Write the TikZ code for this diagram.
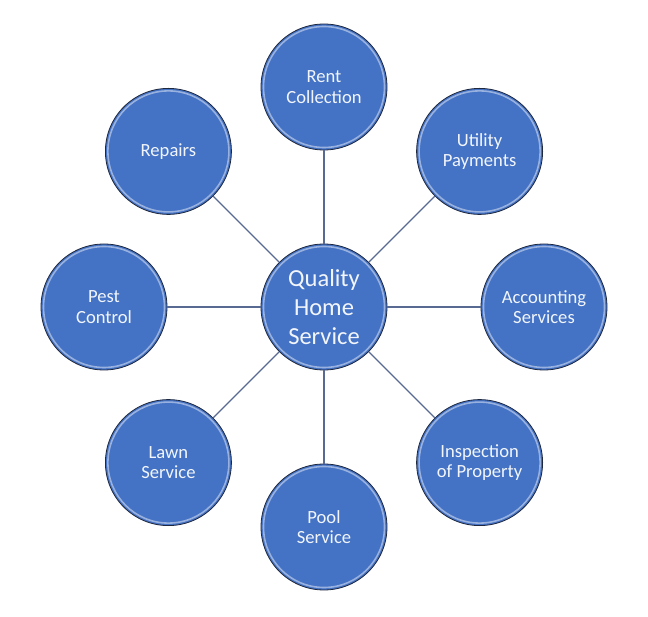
\documentclass[tikz,border=0pt]{standalone}
\usepackage{fontspec}
\setmainfont{Carlito}
\definecolor{bubble}{RGB}{68,114,196}
\definecolor{rim}{RGB}{30,40,62}
\definecolor{spoke}{RGB}{88,106,146}
\definecolor{label}{RGB}{242,246,252}
\tikzset{
  bubble/.style={circle,minimum size=126pt,inner sep=0pt,fill=bubble,draw=rim,line width=0.8pt,
    text=label,align=center,font=\fontsize{18.6}{20.5}\selectfont,
    path picture={\draw[white!45!bubble,line width=1.6pt] (path picture bounding box.center) circle[radius=60.5pt];}},
  hub/.style={bubble,font=\fontsize{24.5}{29}\selectfont},
  spoke/.style={draw=spoke,line width=1.2pt}
}
\begin{document}
\begin{tikzpicture}[x=1pt,y=-1pt]
\useasboundingbox (0,0) rectangle (648,617);
\node[hub] (hub) at (324,307) {Quality\\Home\\Service};
\node[bubble] (rent) at (324,87) {Rent\\Collection};
\node[bubble] (utility) at (479.6,151.4) {Utility\\Payments};
\node[bubble] (accounting) at (544,307) {Accounting\\Services};
\node[bubble] (inspection) at (479.6,462.6) {Inspection\\of Property};
\node[bubble] (pool) at (324,527) {Pool\\Service};
\node[bubble] (lawn) at (168.4,462.6) {Lawn\\Service};
\node[bubble] (pest) at (104,307) {Pest\\Control};
\node[bubble] (repairs) at (168.4,151.4) {Repairs};

\draw[spoke] (hub) -- (rent);
\draw[spoke] (hub) -- (utility);
\draw[spoke] (hub) -- (accounting);
\draw[spoke] (hub) -- (inspection);
\draw[spoke] (hub) -- (pool);
\draw[spoke] (hub) -- (lawn);
\draw[spoke] (hub) -- (pest);
\draw[spoke] (hub) -- (repairs);
\end{tikzpicture}
\end{document}
